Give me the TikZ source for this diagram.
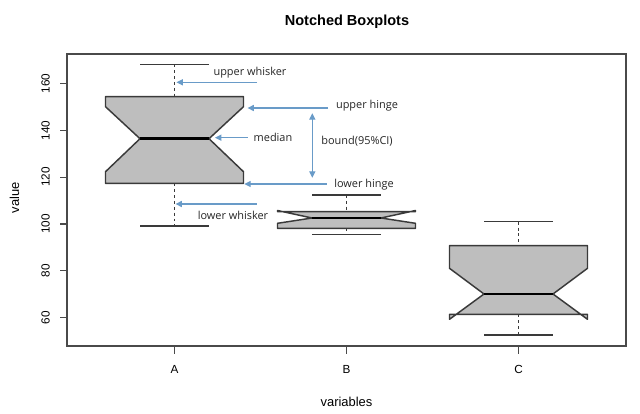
\documentclass[tikz,border=0pt]{standalone}
\usepackage{fontspec}
\setmainfont{Liberation Sans}
\newfontfamily\annfont{Open Sans}
\usetikzlibrary{arrows.meta}
\definecolor{boxfill}{HTML}{BEBEBE}
\definecolor{boxline}{HTML}{3A3A3A}
\definecolor{framecol}{HTML}{4A4A4A}
\definecolor{annblue}{RGB}{105,155,200}
\tikzset{
  boxstyle/.style={draw=boxline, fill=boxfill, line width=1.1pt, line join=round},
  medianline/.style={draw=black, line width=2.2pt},
  staple/.style={draw=boxline, line width=1pt},
  whiskdash/.style={draw=boxline, line width=1pt, dash pattern=on 2.2pt off 2.2pt},
  framestyle/.style={draw=framecol, line width=1.1pt},
  ticklbl/.style={font=\fontsize{8.8}{10}\selectfont, inner sep=0pt},
  annot/.style={font=\annfont\fontsize{8.2}{10}\selectfont, text=black!85, inner sep=0pt},
  annarrow/.style={draw=annblue, line width=0.8pt, -{Triangle[length=4.8pt,width=4.6pt]}},
  annarrowboth/.style={draw=annblue, line width=0.8pt, {Triangle[length=4.8pt,width=4.6pt]}-{Triangle[length=4.8pt,width=4.6pt]}},
}
\newcommand\notchbox[8]{%
  \draw[whiskdash] (#1,#7) -- (#1,#2);
  \draw[whiskdash] (#1,#6) -- (#1,#8);
  \draw[staple] ({#1-34.5},#7) -- ({#1+34.5},#7);
  \draw[staple] ({#1-34.5},#8) -- ({#1+34.5},#8);
  \draw[boxstyle] ({#1-69},#6) -- ({#1-69},#5) -- ({#1-34.5},#4) -- ({#1-69},#3) -- ({#1-69},#2)
     -- ({#1+69},#2) -- ({#1+69},#3) -- ({#1+34.5},#4) -- ({#1+69},#5) -- ({#1+69},#6) -- cycle;
  \draw[medianline] ({#1-34.5},#4) -- ({#1+34.5},#4);
}
\begin{document}
\begin{tikzpicture}[x=0.75pt, y=-0.75pt]
\useasboundingbox[fill=white] (0,0) rectangle (640,414);
% title and axis titles
\node[font=\bfseries\fontsize{10.9}{12}\selectfont, inner sep=0pt] (title) at (347,21.5) {Notched Boxplots};
\node[font=\fontsize{9.7}{11}\selectfont, inner sep=0pt] (xtitle) at (346.5,401.5) {variables};
\node[font=\fontsize{9.7}{11}\selectfont, inner sep=0pt, rotate=90] (ytitle) at (14.5,198) {value};
% y ticks
\foreach \v in {60,80,...,160} {
  \pgfmathsetmacro\yy{224-(\v-100)*2.34}
  \draw[framestyle, line width=0.9pt] (60,\yy) -- (67,\yy);
  \node[ticklbl, rotate=90] (yl\v) at (45.5,\yy) {\v};
}
% x ticks
\foreach \xx/\lab in {174.5/A,346.5/B,518.5/C} {
  \draw[framestyle, line width=0.9pt] (\xx,346) -- (\xx,354);
  \node[ticklbl] (xl\lab) at (\xx,369.5) {\lab};
}
% boxes: center, H, notch-high, median, notch-low, L, whisker-top, whisker-bottom
\notchbox{174.5}{96.7}{106.7}{138.7}{171.7}{183.3}{64.3}{226}
\notchbox{346.5}{211.7}{210.5}{218}{223.3}{228.3}{195}{234.3}
\notchbox{518.5}{245.7}{268.3}{294}{319.3}{314.3}{221.7}{335}
% frame
\draw[framestyle] (67,54) rectangle (626,346);
% annotations
\node[annot] (uw) at (250,72.3) {upper whisker};
\node[annot] (uh) at (367,106) {upper hinge};
\node[annot] (med) at (273,137.7) {median};
\node[annot] (bd) at (357,141.7) {bound(95\%CI)};
\node[annot] (lh) at (364,185) {lower hinge};
\node[annot] (lw) at (233,215) {lower whisker};
\coordinate (uwS) at (257,82.3); \coordinate (uwT) at (176.5,82.3);
\coordinate (uhS) at (328,108); \coordinate (uhT) at (247.5,108);
\coordinate (medS) at (247.7,137.7); \coordinate (medT) at (215,137.7);
\coordinate (bdT) at (312.3,113.3); \coordinate (bdB) at (312.3,177.7);
\coordinate (lhS) at (326.7,184); \coordinate (lhT) at (244.3,184);
\coordinate (lwS) at (256.7,204); \coordinate (lwT) at (175.5,204);
\draw[annarrow] (uwS) -- (uwT);
\draw[annarrow] (uhS) -- (uhT);
\draw[annarrow] (medS) -- (medT);
\draw[annarrowboth] (bdT) -- (bdB);
\draw[annarrow] (lhS) -- (lhT);
\draw[annarrow] (lwS) -- (lwT);
\end{tikzpicture}
\end{document}
